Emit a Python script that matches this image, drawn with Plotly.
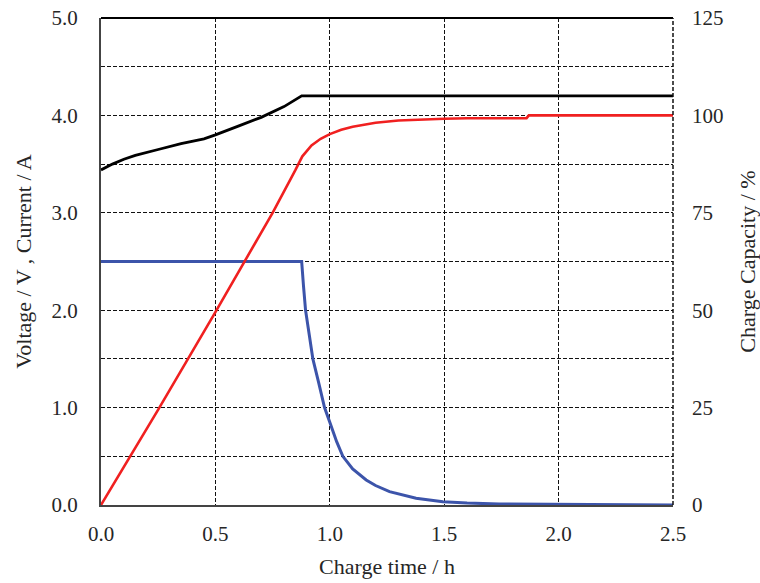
import plotly.graph_objects as go

# Voltage (V) vs charge time (h)
volt_t = [0, 0.05, 0.1, 0.15, 0.25, 0.35, 0.45, 0.5, 0.6, 0.7, 0.8, 0.877, 2.5]
volt_v = [3.44, 3.50, 3.55, 3.59, 3.65, 3.71, 3.76, 3.80, 3.89, 3.98, 4.09, 4.20, 4.20]

# Current (A) vs charge time (h)
curr_t = [0, 0.877, 0.885, 0.894, 0.91, 0.926, 0.95, 0.977, 1.0, 1.03, 1.057, 1.1, 1.159,
          1.2, 1.261, 1.32, 1.377, 1.494, 1.6, 1.74, 2.0, 2.5]
curr_a = [2.5, 2.5, 2.25, 2.0, 1.75, 1.5, 1.27, 1.0, 0.85, 0.65, 0.5, 0.37, 0.257,
          0.2, 0.137, 0.1, 0.069, 0.034, 0.02, 0.01, 0.005, 0.0]

# Charge capacity (%) vs charge time (h)
cap_t = [0, 0.25, 0.5, 0.75, 0.85, 0.88, 0.92, 0.96, 1.0, 1.05, 1.1, 1.2, 1.3, 1.4,
         1.5, 1.6, 1.7, 1.86, 1.87, 2.5]
cap_p = [0, 24.5, 49.5, 75, 86, 89.5, 92.3, 94, 95.2, 96.3, 97.1, 98.1, 98.7, 99.0,
         99.15, 99.25, 99.3, 99.3, 100, 100]

x_ticks = [0, 0.5, 1.0, 1.5, 2.0, 2.5]
x_ticktext = ["0.0", "0.5", "1.0", "1.5", "2.0", "2.5"]
y_ticks = [0, 0.5, 1, 1.5, 2, 2.5, 3, 3.5, 4, 4.5, 5]
y_ticktext = ["0.0", "", "1.0", "", "2.0", "", "3.0", "", "4.0", "", "5.0"]
y2_ticks = [0, 25, 50, 75, 100, 125]
y2_ticktext = ["0", "25", "50", "75", "100", "125"]

FONT = "Liberation Serif, Times New Roman, serif"
TXT = "#262626"

fig = go.Figure()
fig.add_trace(go.Scatter(x=curr_t, y=curr_a, mode="lines",
                         line=dict(color="#3c54aa", width=3), yaxis="y"))
fig.add_trace(go.Scatter(x=cap_t, y=cap_p, mode="lines",
                         line=dict(color="#f02020", width=2.6), yaxis="y2"))
fig.add_trace(go.Scatter(x=volt_t, y=volt_v, mode="lines",
                         line=dict(color="#000000", width=2.8), yaxis="y"))

fig.update_layout(
    width=760, height=583,
    margin=dict(l=101, r=87, t=18, b=78, autoexpand=False),
    paper_bgcolor="white", plot_bgcolor="white",
    showlegend=False,
    font=dict(family=FONT, color=TXT, size=21),
    xaxis=dict(
        range=[0, 2.5], tickvals=x_ticks, ticktext=x_ticktext,
        showgrid=True, gridcolor="#111", griddash="4px,2px", gridwidth=1.2,
        zeroline=False, showline=True, linecolor="#444", linewidth=2,
        ticks="", ticklabelstandoff=9, automargin=False, ticklabeloverflow="allow",
        tickfont=dict(family=FONT, size=21, color=TXT),
        title=dict(text="Charge time / h", font=dict(family=FONT, size=22, color=TXT), standoff=13),
    ),
    yaxis=dict(
        range=[0, 5], tickvals=y_ticks, ticktext=y_ticktext,
        showgrid=True, gridcolor="#111", griddash="4px,2px", gridwidth=1.2,
        zeroline=False, showline=True, linecolor="#444", linewidth=2,
        ticks="", ticklabelstandoff=17, automargin=False, ticklabeloverflow="allow",
        tickfont=dict(family=FONT, size=21, color=TXT),
        title=dict(text="Voltage / V , Current / A", font=dict(family=FONT, size=22, color=TXT), standoff=14),
    ),
    yaxis2=dict(
        range=[0, 125], tickvals=y2_ticks, ticktext=y2_ticktext,
        overlaying="y", side="right", showgrid=False, zeroline=False,
        showline=False, ticks="", ticklabelstandoff=18, automargin=False,
        ticklabeloverflow="allow",
        tickfont=dict(family=FONT, size=21, color=TXT),
        title=dict(text="Charge Capacity / %", font=dict(family=FONT, size=22, color=TXT), standoff=18),
    ),
    shapes=[
        dict(type="line", xref="paper", yref="paper", x0=0, x1=1, y0=1, y1=1,
             line=dict(color="#000", width=2)),
        dict(type="line", xref="paper", yref="paper", x0=1, x1=1, y0=0, y1=1,
             line=dict(color="#111", width=1.5, dash="4px,2px")),
    ],
)

# remove the browser's default 8px body margin so the figure fills the window
fig.write_html("out.html", config={"displayModeBar": False},
               post_script="document.body.style.margin='0px';")
